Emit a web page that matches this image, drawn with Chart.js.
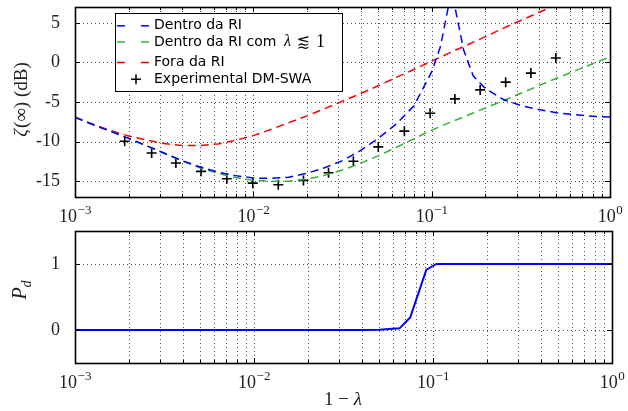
<!DOCTYPE html>
<html><head><meta charset="utf-8">
<script src="https://cdn.jsdelivr.net/npm/chart.js@4.4.1/dist/chart.umd.min.js"></script>
<style>
html,body{margin:0;padding:0;background:#fff;}
#wrap{position:relative;width:628px;height:411px;background:#fff;}
canvas{position:absolute;left:0;}
#c1{top:0;width:628px;height:225px;}
#c2{top:225px;width:628px;height:186px;}
</style></head><body>
<div id="wrap"><canvas id="c1" width="628" height="225"></canvas><canvas id="c2" width="628" height="186"></canvas></div>
<script>
// ---------- data ----------
const xMajor = [0.001, 0.01, 0.1, 1];
const xTickBase = ['10', '10', '10', '10'];
const xTickExp = ['\u22123', '\u22122', '\u22121', '0'];
const xMinor = [0.002,0.003,0.004,0.005,0.006,0.007,0.008,0.009,
                0.02,0.03,0.04,0.05,0.06,0.07,0.08,0.09,
                0.2,0.3,0.4,0.5,0.6,0.7,0.8,0.9];
const yTicksTop = [5, 0, -5, -10, -15];
const yTickLabelsTop = ['5', '0', '-5', '-10', '-15'];
const yTicksBottom = [0, 1];
const yTickLabelsBottom = ['0', '1'];

const curveX = [0.001,0.00126,0.00158,0.002,0.00251,0.00316,0.00398,0.00501,0.00631,0.00794,
                0.01,0.0126,0.0158,0.02,0.0251,0.0316,0.0398,0.0501,0.0631,0.0794,
                0.1,0.126,0.158,0.2,0.251,0.316,0.398,0.501,0.631,0.794,1];

const redX = curveX.slice(0, 28);
const redY = [-6.9,-7.8,-8.6,-9.3,-9.8,-10.25,-10.5,-10.5,-10.3,-9.85,
              -9.25,-8.45,-7.6,-6.75,-5.85,-4.9,-3.95,-2.95,-1.9,-0.9,
              0.15,1.2,2.2,3.25,4.3,5.3,6.3,7.3];

const blueX = [0.001,0.00126,0.00158,0.002,0.00251,0.00316,0.00398,0.00501,0.00631,0.00794,
               0.01,0.0126,0.0158,0.02,0.0251,0.0316,0.0398,0.0501,0.0631,0.0794,
               0.1,0.112,0.126,0.13,0.135,0.151,0.171,0.2,0.251,0.316,0.398,0.501,0.631,0.794,1];
const blueY = [-6.95,-7.85,-8.7,-9.6,-10.5,-11.45,-12.4,-13.2,-13.85,-14.3,
               -14.6,-14.65,-14.5,-14.0,-13.3,-12.4,-11.15,-9.6,-7.8,-5.5,
               -1.2,2.0,7.8,12,7,1.6,-1.7,-3.3,-4.65,-5.45,-5.95,-6.35,-6.6,-6.8,-6.9];

const greenX = curveX;
const greenY = [-6.95,-7.85,-8.7,-9.6,-10.5,-11.5,-12.45,-13.3,-14.0,-14.55,
                -14.9,-15.0,-15.0,-14.75,-14.25,-13.6,-12.75,-11.8,-10.75,-9.65,
                -8.55,-7.6,-6.7,-5.75,-4.85,-3.9,-2.95,-2.0,-1.1,-0.2,0.7];

const expX = [0.0019,0.00269,0.00368,0.00509,0.0071,0.00993,0.0138,0.0191,0.0264,
              0.0364,0.0502,0.0703,0.098,0.135,0.187,0.26,0.36,0.497];
const expY = [-9.95,-11.44,-12.7,-13.76,-14.69,-15.25,-15.45,-14.9,-13.93,
              -12.49,-10.67,-8.68,-6.43,-4.61,-3.47,-2.49,-1.35,0.56];

const pdX = [0.001,0.04,0.05,0.065,0.0746,0.0918,0.1045,1];
const pdY = [0,0,0.005,0.025,0.19,0.915,1.0,1.0];

const seriesNames = ['Dentro da RI', 'Dentro da RI com ', 'Fora da RI', 'Experimental DM-SWA'];

// ---------- styles ----------
const BLUE = '#0000ff', GREEN = '#36b036', RED = '#ff0000';
const SERIF = "'Liberation Serif', 'DejaVu Serif', serif";
const SANS = "'DejaVu Sans', sans-serif";
const pts = (xs, ys) => xs.map((v, i) => ({x: v, y: ys[i]}));

function line(ctx, x1, y1, x2, y2) { ctx.beginPath(); ctx.moveTo(x1, y1); ctx.lineTo(x2, y2); ctx.stroke(); }

const frame = {
  id: 'frame',
  beforeDatasetsDraw(chart) {
    const {ctx, chartArea: a, scales: {x, y}} = chart;
    ctx.save();
    ctx.strokeStyle = 'rgba(0,0,0,0.7)'; ctx.lineWidth = 1; ctx.setLineDash([1, 3]);
    xMajor.concat(xMinor).forEach(v => {
      const px = Math.round(x.getPixelForValue(v)) + 0.5;
      if (px <= a.left + 2 || px >= a.right - 2) return;
      line(ctx, px, a.top, px, a.bottom);
    });
    y.ticks.forEach(t => {
      const py = Math.round(y.getPixelForValue(t.value)) + 0.5;
      line(ctx, a.left, py, a.right, py);
    });
    ctx.restore();
  },
  afterDatasetsDraw(chart) {
    const {ctx, chartArea: a, scales: {x, y}} = chart;
    ctx.save();
    ctx.strokeStyle = '#000'; ctx.lineWidth = 1;
    xMajor.forEach(v => { const px = Math.round(x.getPixelForValue(v)) + 0.5;
      line(ctx, px, a.bottom, px, a.bottom - 5); line(ctx, px, a.top, px, a.top + 5); });
    xMinor.forEach(v => { const px = Math.round(x.getPixelForValue(v)) + 0.5;
      line(ctx, px, a.bottom, px, a.bottom - 3); line(ctx, px, a.top, px, a.top + 3); });
    y.ticks.forEach(t => { const py = Math.round(y.getPixelForValue(t.value)) + 0.5;
      line(ctx, a.left, py, a.left + 5, py); line(ctx, a.right, py, a.right - 5, py); });
    ctx.lineWidth = 1.6;
    ctx.strokeRect(Math.round(a.left) + 0.5, Math.round(a.top) + 0.5,
                   Math.round(a.right - a.left), Math.round(a.bottom - a.top));
    // x tick labels: base with superscript exponent
    ctx.fillStyle = '#222'; ctx.textBaseline = 'alphabetic'; ctx.textAlign = 'left';
    xMajor.forEach((v, i) => {
      const px = x.getPixelForValue(v);
      ctx.font = '18px ' + SERIF;
      const wb = ctx.measureText(xTickBase[i]).width;
      ctx.font = '13px ' + SERIF;
      const we = ctx.measureText(xTickExp[i]).width;
      const x0 = px - (wb + we) / 2;
      const base = a.bottom + 25;
      ctx.font = '18px ' + SERIF; ctx.fillText(xTickBase[i], x0, base);
      ctx.font = '13px ' + SERIF; ctx.fillText(xTickExp[i], x0 + wb + 0.5, base - 8);
    });
    ctx.restore();
  }
};

function commonX(h) {
  return {
    type: 'logarithmic', min: 0.001, max: 1,
    afterBuildTicks: s => { s.ticks = xMajor.map(v => ({value: v})); },
    afterFit: s => { s.height = h; s.paddingLeft = 0; s.paddingRight = 0; },
    grid: {display: false}, border: {display: false},
    ticks: {display: false}
  };
}
function commonY(min, max, ticks, labels) {
  return {
    type: 'linear', min, max,
    afterBuildTicks: s => { s.ticks = ticks.map(v => ({value: v})); },
    afterFit: s => { s.width = 75; s.paddingTop = 0; s.paddingBottom = 0; },
    grid: {display: false}, border: {display: false},
    ticks: {autoSkip: false, padding: 7, color: '#222',
            font: {family: SERIF, size: 18},
            callback: (v, i) => labels[i]}
  };
}

const dashed = (name, color, xs, ys) => ({
  label: name, data: pts(xs, ys), showLine: true, borderColor: color, backgroundColor: color,
  borderWidth: 1.5, borderDash: [8, 5], pointRadius: 0, tension: 0, clip: 0
});

const legendPlugin = {
  id: 'legendBox',
  afterDraw(chart) {
    const ctx = chart.ctx;
    ctx.save();
    ctx.fillStyle = '#fff'; ctx.fillRect(115.5, 13.5, 227, 78);
    ctx.strokeStyle = '#000'; ctx.lineWidth = 1; ctx.strokeRect(115.5, 13.5, 227, 78);
    const rows = [[BLUE, 25.8], [GREEN, 42], [RED, 62.5]];
    ctx.lineWidth = 1.5;
    rows.forEach(([c, yy]) => { ctx.strokeStyle = c; line(ctx, 117, yy, 125, yy); line(ctx, 141, yy, 149, yy); });
    ctx.strokeStyle = '#000'; ctx.lineWidth = 1.5;
    line(ctx, 131, 79.2, 141, 79.2); line(ctx, 136, 74.2, 136, 84.2);
    ctx.fillStyle = '#000'; ctx.textBaseline = 'middle'; ctx.textAlign = 'left';
    ctx.font = '14px ' + SANS;
    ctx.fillText(seriesNames[0], 154, 25.8);
    ctx.fillText(seriesNames[1], 154, 42);
    ctx.fillText(seriesNames[2], 154, 62.5);
    ctx.fillText(seriesNames[3], 154, 79.2);
    ctx.font = 'italic 16px ' + SERIF; ctx.fillText('\u03BB', 284, 42);
    ctx.font = "16px 'DejaVu Serif', 'DejaVu Math TeX Gyre', 'DejaVu Sans', serif"; ctx.fillText('\u2A85', 297, 43);
    ctx.font = '18px ' + SERIF; ctx.fillText('1', 316, 42);
    // y title
    ctx.translate(22, 100); ctx.rotate(-Math.PI / 2);
    ctx.fillStyle = '#222'; ctx.textBaseline = 'middle';
    ctx.font = 'italic 19px ' + SERIF;
    const z = '\u03B6', rest = '(\u221E) (dB)';
    const wz = ctx.measureText(z).width;
    ctx.font = '19px ' + SERIF;
    const wr = ctx.measureText(rest).width;
    const x0 = -(wz + wr) / 2;
    ctx.font = 'italic 19px ' + SERIF; ctx.fillText(z, x0, 0);
    ctx.font = '19px ' + SERIF; ctx.fillText(rest, x0 + wz + 1, 0);
    ctx.restore();
  }
};

new Chart(document.getElementById('c1'), {
  type: 'scatter',
  data: {datasets: [
    dashed(seriesNames[0], BLUE, blueX, blueY),
    dashed(seriesNames[1], GREEN, greenX, greenY),
    dashed(seriesNames[2], RED, redX, redY),
    {label: seriesNames[3], data: pts(expX, expY), showLine: false, pointStyle: 'cross',
     pointRadius: 5, borderWidth: 1.6, borderColor: '#000', backgroundColor: '#000', clip: 0}
  ]},
  options: {
    responsive: false, animation: false, events: [], devicePixelRatio: 1,
    layout: {padding: {left: 0, top: 7, right: 18, bottom: 0}},
    plugins: {legend: {display: false}, tooltip: {enabled: false}},
    scales: {x: commonX(28), y: commonY(-17, 7, yTicksTop, yTickLabelsTop)}
  },
  plugins: [frame, legendPlugin]
});

const labels2 = {
  id: 'labels2',
  afterDraw(chart) {
    const ctx = chart.ctx;
    ctx.save();
    ctx.fillStyle = '#222'; ctx.textBaseline = 'middle';
    // x title
    ctx.font = '19px ' + SERIF;
    const a = '1 \u2212 ', wa = ctx.measureText(a).width;
    ctx.font = 'italic 19px ' + SERIF;
    const b = '\u03BB', wb = ctx.measureText(b).width;
    const x0 = 343 - (wa + wb) / 2;
    ctx.font = '19px ' + SERIF; ctx.fillText(a, x0, 175);
    ctx.font = 'italic 19px ' + SERIF; ctx.fillText(b, x0 + wa, 175);
    // y title P_d
    ctx.translate(22, 65); ctx.rotate(-Math.PI / 2);
    ctx.font = 'italic 20px ' + SERIF;
    const wp = ctx.measureText('P').width;
    ctx.textAlign = 'left';
    ctx.fillText('P', -(wp + 7) / 2, -1);
    ctx.font = 'italic 14px ' + SERIF;
    ctx.fillText('d', -(wp + 7) / 2 + wp, 5);
    ctx.restore();
  }
};

new Chart(document.getElementById('c2'), {
  type: 'scatter',
  data: {datasets: [
    {label: 'Pd', data: pts(pdX, pdY), showLine: true, borderColor: BLUE, backgroundColor: BLUE,
     borderWidth: 2, pointRadius: 0, tension: 0, clip: 0}
  ]},
  options: {
    responsive: false, animation: false, events: [], devicePixelRatio: 1,
    layout: {padding: {left: 0, top: 6, right: 16, bottom: 0}},
    plugins: {legend: {display: false}, tooltip: {enabled: false}},
    scales: {x: commonX(48), y: commonY(-0.5, 1.5, yTicksBottom, yTickLabelsBottom)}
  },
  plugins: [frame, labels2]
});
</script>
</body></html>
